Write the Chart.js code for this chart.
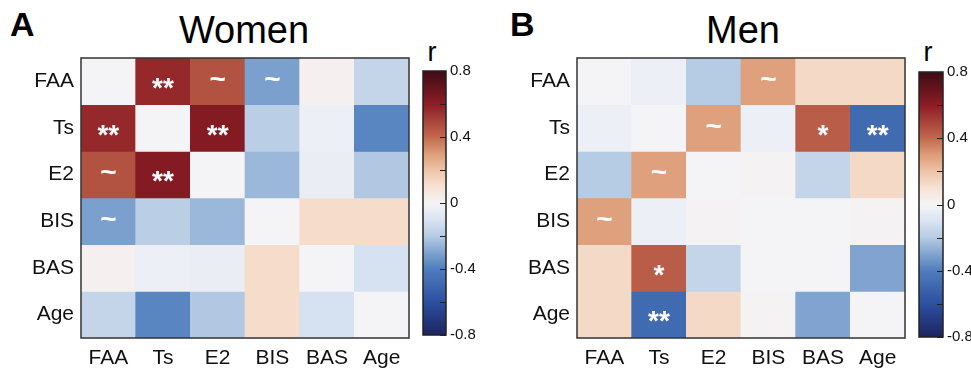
<!DOCTYPE html>
<html>
<head>
<meta charset="utf-8">
<script src="https://cdn.jsdelivr.net/npm/chart.js@4"></script>
<style>
  html, body { margin: 0; padding: 0; background: #fff; }
  #wrap { position: relative; width: 971px; height: 369px; overflow: hidden; font-family: "Liberation Sans", Arial, sans-serif; color: #000; }
  .box { position: absolute; }
  .txt { position: absolute; line-height: 1; white-space: nowrap; }
</style>
</head>
<body>
<div id="wrap">
  <div class="txt" style="left:10px;top:7px;font-size:34px;font-weight:bold;">A</div>
  <div class="txt" style="left:0px;width:488px;text-align:center;top:11px;font-size:38px;">Women</div>
  <div class="txt" style="left:412px;width:40px;text-align:center;top:39px;font-size:27px;">r</div>
  <div class="txt" style="left:510px;top:7px;font-size:34px;font-weight:bold;">B</div>
  <div class="txt" style="left:643px;width:200px;text-align:center;top:11px;font-size:38px;">Men</div>
  <div class="txt" style="left:908px;width:40px;text-align:center;top:39px;font-size:27px;">r</div>

  <div class="box" style="left:0px;top:50px;width:415px;height:319px;"><canvas id="women"></canvas></div>
  <div class="box" style="left:415px;top:40px;width:65px;height:329px;"><canvas id="cbWomen"></canvas></div>
  <div class="box" style="left:490px;top:50px;width:420px;height:319px;"><canvas id="men"></canvas></div>
  <div class="box" style="left:911px;top:40px;width:60px;height:329px;"><canvas id="cbMen"></canvas></div>
</div>
<script>
// ---------------- DATA ----------------
const variables = ['FAA', 'Ts', 'E2', 'BIS', 'BAS', 'Age'];

const womenValues = [
  [ 0.00,  0.57,  0.46, -0.31,  0.02, -0.16],
  [ 0.57,  0.00,  0.62, -0.19, -0.03, -0.38],
  [ 0.46,  0.62,  0.00, -0.25, -0.04, -0.21],
  [-0.31, -0.19, -0.25,  0.00,  0.12,  0.12],
  [ 0.02, -0.03, -0.04,  0.12,  0.00, -0.11],
  [-0.16, -0.38, -0.21,  0.12, -0.11,  0.00]
];
const womenMarks = [
  ['',   '**', '~',  '~', '', ''],
  ['**', '',   '**', '',  '', ''],
  ['~',  '**', '',   '',  '', ''],
  ['~',  '',   '',   '',  '', ''],
  ['',   '',   '',   '',  '', ''],
  ['',   '',   '',   '',  '', '']
];

const menValues = [
  [ 0.00, -0.03, -0.20,  0.29,  0.13,  0.13],
  [-0.03,  0.00,  0.29, -0.03,  0.43, -0.48],
  [-0.20,  0.29,  0.00,  0.01, -0.16,  0.13],
  [ 0.29, -0.03,  0.01,  0.00,  0.00,  0.01],
  [ 0.13,  0.43, -0.16,  0.00,  0.00, -0.30],
  [ 0.13, -0.48,  0.13,  0.01, -0.30,  0.00]
];
const menMarks = [
  ['',  '',   '',  '~', '',  ''],
  ['',  '',   '~', '',  '*', '**'],
  ['',  '~',  '',  '',  '',  ''],
  ['~', '',   '',  '',  '',  ''],
  ['',  '*',  '',  '',  '',  ''],
  ['',  '**', '',  '',  '',  '']
];

const colorbarRange = [-0.8, 0.8];
const colorbarTicks = [-0.8, -0.6, -0.4, -0.2, 0, 0.2, 0.4, 0.6, 0.8];
const colorbarLabelValues = [-0.8, -0.4, 0, 0.4, 0.8];
const colorbarLabels = ['-0.8', '-0.4', '0', '0.4', '0.8'];

// ---------------- STYLE ----------------
const cmapStops = [
  [-0.8, '#1c2462'], [-0.6, '#2c50a0'], [-0.4, '#4f7dbd'], [-0.3, '#80a4cf'],
  [-0.2, '#b6cbe4'], [-0.1, '#dae4f2'], [0.0, '#f4f4f6'], [0.1, '#f7e2d4'],
  [0.2, '#eec4a8'], [0.3, '#dd9c78'], [0.4, '#c2694e'], [0.6, '#8c1c24'],
  [0.8, '#3e0c14']
];
const FONT = '"Liberation Sans", Arial, sans-serif';

function hex2rgb(h) { return [parseInt(h.slice(1,3),16), parseInt(h.slice(3,5),16), parseInt(h.slice(5,7),16)]; }
function colorFor(v) {
  if (v <= cmapStops[0][0]) return cmapStops[0][1];
  for (let i = 1; i < cmapStops.length; i++) {
    const [v1, c1] = cmapStops[i];
    const [v0, c0] = cmapStops[i-1];
    if (v <= v1) {
      const t = (v - v0) / (v1 - v0);
      const a = hex2rgb(c0), b = hex2rgb(c1);
      const m = a.map((x, k) => Math.round(x + (b[k] - x) * t));
      return `rgb(${m[0]},${m[1]},${m[2]})`;
    }
  }
  return cmapStops[cmapStops.length-1][1];
}

const frame = {
  id: 'frame',
  afterDraw(chart, args, opts) {
    const {ctx, chartArea: a} = chart;
    ctx.save();
    ctx.strokeStyle = opts.color || '#333';
    ctx.lineWidth = opts.width || 1.5;
    ctx.strokeRect(a.left, a.top, a.right - a.left, a.bottom - a.top);
    ctx.restore();
  }
};

const marksPlugin = {
  id: 'marks',
  afterDatasetsDraw(chart, args, opts) {
    const {ctx} = chart;
    const xs = chart.scales.x, ys = chart.scales.yl;
    ctx.save();
    ctx.fillStyle = '#fff';
    ctx.textAlign = 'center';
    ctx.textBaseline = 'middle';
    ctx.font = 'bold 28px ' + FONT;
    opts.marks.forEach((row, r) => row.forEach((m, c) => {
      if (!m) return;
      const x = xs.getPixelForValue(c);
      const y = ys.getPixelForValue(r);
      const dy = m.includes('*') ? 8 : -1;
      ctx.fillText(m, x, y + dy);
    }));
    ctx.restore();
  }
};

function heatmap(id, values, marks, axisWidth, padRight) {
  const datasets = values.map((row, r) => ({
    label: variables[r],
    data: row.map(() => [r, r + 1]),
    backgroundColor: row.map(v => colorFor(v)),
    borderWidth: 0,
    yAxisID: 'y',
    grouped: false,
    barPercentage: 1,
    categoryPercentage: 1
  }));
  return new Chart(document.getElementById(id), {
    type: 'bar',
    data: { labels: variables, datasets },
    plugins: [frame, marksPlugin],
    options: {
      responsive: true, maintainAspectRatio: false, animation: false, devicePixelRatio: 1,
      layout: { padding: { top: 8, right: padRight, left: 0, bottom: 0 } },
      plugins: { legend: { display: false }, tooltip: { enabled: false }, marks: { marks }, frame: { color: '#333', width: 1.5 } },
      scales: {
        x: {
          type: 'category', offset: true,
          grid: { display: false, drawTicks: false }, border: { display: false },
          ticks: { font: { family: FONT, size: 21 }, color: '#111', padding: 8, maxRotation: 0, autoSkip: false },
          afterFit(s) { s.height = 31; s.paddingLeft = 0; s.paddingRight = 0; }
        },
        y: { type: 'linear', min: 0, max: 6, reverse: true, display: false },
        yl: {
          type: 'category', labels: variables, position: 'left', offset: true,
          grid: { display: false, drawTicks: false }, border: { display: false },
          ticks: { font: { family: FONT, size: 21 }, color: '#111', padding: 7, autoSkip: false },
          afterFit(s) { s.width = axisWidth; s.paddingTop = 0; s.paddingBottom = 0; }
        }
      }
    }
  });
}

const cbPlugin = {
  id: 'cbDeco',
  afterDraw(chart) {
    const {ctx, chartArea: a} = chart;
    const ys = chart.scales.y;
    ctx.save();
    ctx.strokeStyle = '#222';
    ctx.lineWidth = 1;
    colorbarTicks.forEach(v => {
      const y = Math.round(ys.getPixelForValue(v)) + 0.5;
      ctx.beginPath(); ctx.moveTo(a.right - 6, y); ctx.lineTo(a.right, y); ctx.stroke();
    });
    ctx.lineWidth = 1.5;
    ctx.strokeRect(a.left, a.top, a.right - a.left, a.bottom - a.top);
    ctx.restore();
  }
};

function colorbar(id, pad, axisWidth) {
  return new Chart(document.getElementById(id), {
    type: 'bar',
    data: { labels: ['r'], datasets: [{
      data: [colorbarRange],
      borderWidth: 0, barPercentage: 1, categoryPercentage: 1,
      backgroundColor(c) {
        const chart = c.chart;
        const ys = chart.scales.y;
        if (!chart.chartArea || !ys) return '#fff';
        const y0 = ys.getPixelForValue(colorbarRange[0]);
        const y1 = ys.getPixelForValue(colorbarRange[1]);
        const g = chart.ctx.createLinearGradient(0, y0, 0, y1);
        cmapStops.forEach(([v, col]) => g.addColorStop((v - colorbarRange[0]) / (colorbarRange[1] - colorbarRange[0]), col));
        return g;
      }
    }]},
    plugins: [cbPlugin],
    options: {
      responsive: true, maintainAspectRatio: false, animation: false, devicePixelRatio: 1,
      layout: { padding: pad },
      plugins: { legend: { display: false }, tooltip: { enabled: false } },
      scales: {
        x: { display: false, offset: true },
        y: {
          position: 'right', min: colorbarRange[0], max: colorbarRange[1],
          afterBuildTicks(s) { s.ticks = colorbarTicks.map(v => ({ value: v })); },
          grid: { display: false, drawTicks: false }, border: { display: false },
          ticks: {
            font: { family: FONT, size: 15 }, color: '#111', padding: 4, autoSkip: false,
            callback(v) {
              const i = colorbarLabelValues.findIndex(l => Math.abs(l - v) < 1e-6);
              return i >= 0 ? colorbarLabels[i] : '';
            }
          },
          afterFit(s) { s.width = axisWidth; s.paddingTop = 0; s.paddingBottom = 0; }
        }
      }
    }
  });
}

heatmap('women', womenValues, womenMarks, 81, 6);
heatmap('men', menValues, menMarks, 87, 5);
colorbar('cbWomen', { left: 8, top: 31, bottom: 34, right: 0 }, 34);
colorbar('cbMen', { left: 8, top: 32, bottom: 32, right: 0 }, 28);
</script>
</body>
</html>
